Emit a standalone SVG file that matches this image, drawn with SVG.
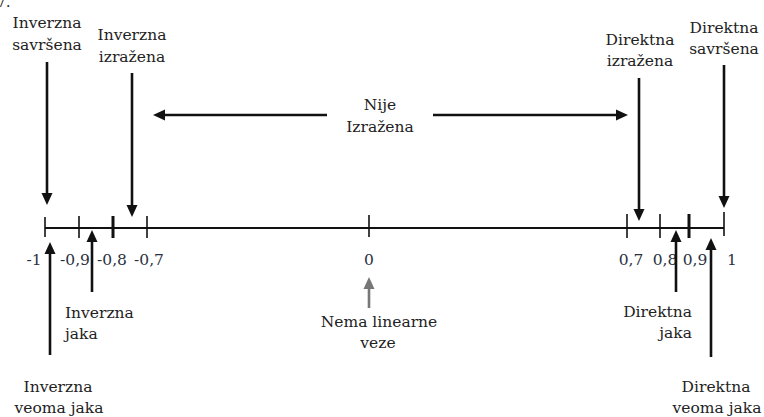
<svg xmlns="http://www.w3.org/2000/svg" width="764" height="417" viewBox="0 0 764 417">
<defs>
<style>
text{font-family:"DejaVu Serif","Liberation Serif",serif;font-size:15.5px;fill:#222}
.m{text-anchor:middle}
.e{text-anchor:end}
.num{font-size:15.5px;fill:#2a3040}
.ar{stroke:#111;stroke-width:2.6;fill:none;marker-end:url(#ah)}
.gr{stroke:#777;stroke-width:2.6;fill:none;marker-end:url(#ahg)}
.tk{stroke:#111;stroke-width:1.6}
.tkb{stroke:#111;stroke-width:3}
</style>
<marker id="ah" markerUnits="userSpaceOnUse" markerWidth="13" markerHeight="12" refX="6" refY="5.5" orient="auto" viewBox="0 0 13 11">
<path d="M0,0 L12,5.5 L0,11 z" fill="#111"/>
</marker>
<marker id="ahg" markerUnits="userSpaceOnUse" markerWidth="13" markerHeight="12" refX="6" refY="5.5" orient="auto" viewBox="0 0 13 11">
<path d="M0,0 L12,5.5 L0,11 z" fill="#777"/>
</marker>
</defs>
<rect width="764" height="417" fill="#fff"/>
<text x="-3" y="7" style="font-size:14px">7.</text>

<g id="axis">
<line x1="45" y1="228" x2="724" y2="228" stroke="#111" stroke-width="1.8"/>
<line class="tk" x1="45" y1="217" x2="45" y2="237"/>
<line class="tk" x1="79" y1="216" x2="79" y2="238"/>
<line class="tkb" x1="113" y1="216" x2="113" y2="238"/>
<line class="tk" x1="147" y1="216" x2="147" y2="238"/>
<line class="tk" x1="369" y1="215" x2="369" y2="237"/>
<line class="tk" x1="627" y1="214" x2="627" y2="238"/>
<line class="tk" x1="660" y1="214" x2="660" y2="238"/>
<line class="tkb" x1="689" y1="214" x2="689" y2="238"/>
<line class="tk" x1="724" y1="212" x2="724" y2="236"/>
<text class="m num" x="34" y="265">-1</text>
<text class="m num" x="75" y="265">-0,9</text>
<text class="m num" x="112" y="265">-0,8</text>
<text class="m num" x="149" y="265">-0,7</text>
<text class="m num" x="369" y="265">0</text>
<text class="m num" x="631" y="265">0,7</text>
<text class="m num" x="665" y="265">0,8</text>
<text class="m num" x="695" y="265">0,9</text>
<text class="m num" x="732" y="265">1</text>
</g>

<g id="connectors">
<line class="ar" x1="47" y1="62" x2="47" y2="199"/>
<line class="ar" x1="132" y1="73" x2="132" y2="211"/>
<line class="ar" x1="327" y1="115" x2="159" y2="115"/>
<line class="ar" x1="433" y1="115" x2="622" y2="115"/>
<line class="ar" x1="639" y1="78" x2="639" y2="215"/>
<line class="ar" x1="724" y1="65" x2="724" y2="202"/>
<line class="ar" x1="50" y1="355" x2="50" y2="248"/>
<line class="ar" x1="92" y1="292" x2="92" y2="236"/>
<line class="ar" x1="676" y1="292" x2="676" y2="236"/>
<line class="ar" x1="711" y1="357" x2="711" y2="244"/>
<line class="gr" x1="369" y1="308" x2="369" y2="283"/>
</g>

<g id="inverzna-savrsena"><text class="m" x="47" y="28">Inverzna</text><text class="m" x="47" y="50">savršena</text></g>
<g id="inverzna-izrazena"><text class="m" x="132" y="40">Inverzna</text><text class="m" x="132" y="62">izražena</text></g>
<g id="nije-izrazena"><text class="m" x="380" y="110">Nije</text><text class="m" x="380" y="132">Izražena</text></g>
<g id="direktna-izrazena"><text class="m" x="640" y="45">Direktna</text><text class="m" x="640" y="66">izražena</text></g>
<g id="direktna-savrsena"><text class="m" x="724" y="33">Direktna</text><text class="m" x="724" y="54">savršena</text></g>
<g id="inverzna-jaka"><text x="65" y="318">Inverzna</text><text x="65" y="339">jaka</text></g>
<g id="inverzna-veoma-jaka"><text class="m" x="58" y="392">Inverzna</text><text class="m" x="59" y="413">veoma jaka</text></g>
<g id="nema-linearne-veze"><text class="m" x="379" y="327">Nema linearne</text><text class="m" x="378" y="348">veze</text></g>
<g id="direktna-jaka"><text class="e" x="692" y="317">Direktna</text><text class="e" x="692" y="338">jaka</text></g>
<g id="direktna-veoma-jaka"><text class="m" x="716" y="392">Direktna</text><text class="m" x="717" y="413">veoma jaka</text></g>
</svg>
